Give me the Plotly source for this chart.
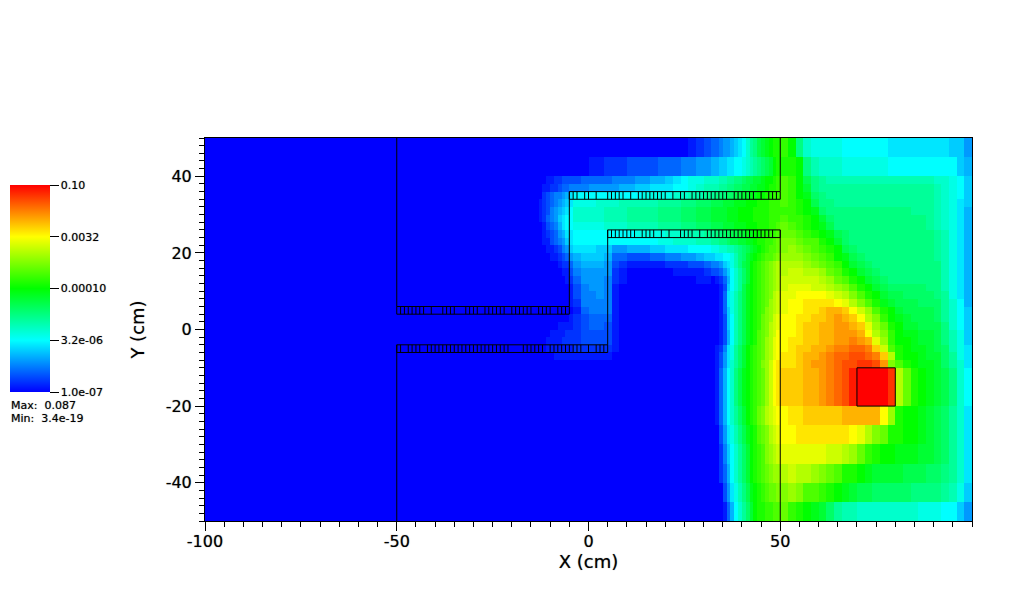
import plotly.graph_objects as go

# colour level: 0 = 1.0e-7, 10 = 3.2e-6, 20 = 1e-4, 30 = 0.0032, 40 = 0.10
x_edges = [-100] + list(range(-14, -4)) + list(range(-4, 32, 2)) + list(range(32, 50)) + list(range(50, 101, 2))
y_edges = [50, 45] + list(range(40, -12, -2)) + [-15, -20, -25, -30, -35, -40, -45, -50]

blank = [0] * 28

# each row: x<-14 (empty) | -14..-5 | -4..30 | 32..49 | 50..98
p47 = [0]*10 + [0]*15 + [1,2,3] + [4,4,5,6,6,7,8,9,10,12,14,15,17,18,19,20,21,21] + [22,20,15,12,11,11,11,11,10,10,10,10,10,10,9,9,9,9,9,9,9,9,8,8,6]
p42 = [0]*10 + [0,0,1,1,2,2,2,3,3,3,3,4,4,4,5,5,6,6] + [7,7,8,8,9,9,10,10,11,12,13,14,15,16,17,18,20,21] + [21,21,20,15,13,12,12,12,11,11,11,11,11,11,10,10,10,10,10,10,10,10,10,8,7]
p39 = [0,0,0,1,1,2,2,3,3,3] + [3,4,4,4,4,5,5,5,6,6,7,7,8,9,10,11,11,12] + [12,12,13,13,14,14,15,15,16,17,17,18,18,19,20,20,21,22] + [23,22,20,17,15,14,13,13,13,13,13,13,13,13,13,13,13,13,13,13,12,12,11,10,8]
p37 = [0,0,1,1,2,2,3,4,4,5] + [5,5,6,6,6,6,7,7,8,8,9,9,9,10,10,11,12,13] + [13,13,14,14,15,15,16,16,17,17,18,18,19,19,20,21,21,22] + [23,22,20,18,15,14,14,14,14,14,14,14,14,14,14,14,14,14,14,14,13,12,11,10,8]
p35 = [0,0,2,3,4,5,5,6,7,9] + [10,10,10,10,10,10,10,10,10,11,11,11,11,12,12,13,13,14] + [14,15,15,15,16,16,17,17,18,18,19,19,20,20,21,21,22,22] + [23,22,20,19,16,15,14,14,14,14,14,14,14,14,14,14,14,14,14,14,13,12,11,10,8]
p33 = [0,1,2,3,4,5,6,7,8,9] + [11,11,11,12,12,12,13,13,13,13,13,14,14,14,15,15,16,16] + [17,17,17,18,18,18,19,19,19,20,20,20,21,21,21,22,22,22] + [23,22,21,20,17,15,15,14,14,14,14,14,14,14,14,14,14,14,14,14,13,12,11,9,8]
p31 = [0,1,2,3,5,6,7,8,9,10] + [12,12,12,12,13,13,13,14,14,14,14,15,15,15,16,16,17,17] + [18,18,18,18,19,19,19,20,20,20,20,21,21,21,21,22,22,22] + [22,22,21,20,19,16,15,15,15,15,15,15,15,15,15,15,15,14,14,14,13,12,11,9,7]
p29 = [0,1,2,4,5,6,8,9,10,10] + [12,12,12,12,13,13,13,14,14,14,14,15,15,15,16,16,17,17] + [18,18,18,18,19,19,19,20,20,20,20,21,21,21,21,22,22,22] + [23,22,22,21,20,18,16,15,15,15,15,15,15,15,15,15,15,15,15,14,13,12,11,9,7]
p27 = [0,0,1,3,4,5,7,9,10,10] + [11,11,11,11,12,12,12,13,13,13,13,14,14,14,15,15,16,16] + [17,17,17,18,18,18,19,19,19,20,20,20,21,21,21,22,22,23] + [24,23,22,21,20,19,17,15,15,15,15,15,15,15,15,15,15,15,15,14,13,12,11,9,7]
p25 = [0,0,1,2,3,4,6,7,9,9] + [10,10,10,10,10,10,10,10,11,11,11,11,12,12,12,13,13,14] + [14,15,15,16,16,17,17,18,18,19,19,20,20,21,21,22,22,23] + [24,24,23,22,21,20,19,17,16,15,15,15,15,15,15,15,15,15,15,15,14,13,11,9,7]
p23 = [0,0,1,1,3,4,5,6,8,9] + [10,10,10,10,10,10,10,10,10,10,10,11,11,12,12,12,13,13] + [14,14,15,15,16,17,17,18,18,19,19,20,21,21,22,22,23,24] + [25,25,24,23,23,21,20,18,16,15,15,15,15,15,15,15,15,15,15,15,14,13,11,9,7]
p21 = [0,0,0,1,1,2,3,5,6,8] + [9,9,9,8,8,6,6,7,7,7,8,8,9,9,9,10,10,10] + [11,11,12,12,13,13,14,15,16,17,18,19,20,21,22,23,23,24] + [25,26,25,24,23,22,21,20,17,16,15,15,15,15,15,15,15,15,15,15,14,13,11,9,7]
p19 = [0,0,0,0,1,1,2,3,4,6] + [7,8,8,8,7,4,4,3,3,3,4,4,5,5,6,6,7,8] + [8,9,9,10,10,11,13,15,16,18,19,20,21,22,23,23,24,25] + [26,26,26,25,24,23,22,20,19,17,16,15,15,15,15,15,15,15,15,15,14,13,11,9,7]
p17 = [0,0,0,0,0,0,1,2,2,4] + [6,7,7,7,6,3,2,1,1,1,1,1,2,2,2,3,3,4] + [5,5,6,8,9,11,13,15,17,18,20,21,22,23,24,25,26,27] + [27,27,27,26,25,24,23,22,20,18,17,16,15,15,15,15,15,15,15,15,15,13,11,9,7]
p15 = [0,0,0,0,0,0,0,1,1,3] + [5,6,6,6,6,2,1,0,0,0,0,0,0,1,1,1,1,2] + [3,3,4,6,8,10,12,14,16,18,20,21,22,23,24,25,26,27] + [27,28,28,27,27,26,24,23,21,20,18,17,16,15,15,15,15,15,15,15,15,13,11,9,7]
p13 = [0,0,0,0,0,0,0,0,1,2] + [4,6,6,6,5,2,1,0,0,0,0,0,0,0,0,0,1,1] + [0,1,2,4,7,10,12,14,16,18,20,21,22,23,24,25,26,27] + [28,28,28,28,28,27,26,24,23,21,20,18,17,16,15,15,15,15,15,15,15,13,11,9,7]
p11 = [0,0,0,0,0,0,0,0,0,1] + [3,5,6,6,5,1,0,0,0,0,0,0,0,0,0,0,0,0] + [0,0,1,3,8,10,12,14,17,19,20,21,22,23,24,25,26,27] + [28,29,29,29,28,28,27,26,25,23,21,20,18,17,16,16,16,16,16,15,15,13,11,9,7]
p9 = [0,0,0,0,0,0,0,0,0,1] + [3,5,5,6,5,1,0,0,0,0,0,0,0,0,0,0,0,0] + [0,0,1,4,9,11,13,15,17,19,20,21,22,23,24,25,27,28] + [29,29,30,30,30,30,29,28,27,25,23,21,20,18,17,17,16,16,16,16,15,14,11,9,7]
p7 = [0,0,0,0,0,0,0,0,0,1] + [2,5,5,5,5,1,0,0,0,0,0,0,0,0,0,0,0,0] + [0,0,1,4,9,11,13,15,17,19,20,21,22,23,24,26,27,28] + [29,30,30,31,31,31,31,30,29,27,25,23,21,19,18,17,17,17,16,16,16,14,12,10,7]
p5 = [0,0,0,0,0,0,0,0,0,0] + [1,4,5,5,5,1,0,0,0,0,0,0,0,0,0,0,0,0] + [0,0,1,4,8,11,13,15,17,19,20,21,22,23,25,26,27,28] + [29,30,30,31,31,32,33,33,32,30,28,26,23,21,20,18,17,17,17,17,16,14,12,10,8]
p3 = [0,0,0,0,0,0,0,0,0,1] + [2,3,4,4,4,1,0,0,0,0,0,0,0,0,0,0,0,0] + [0,0,1,3,8,10,13,15,17,19,20,21,22,24,25,26,28,29] + [30,30,31,31,32,32,33,34,33,32,30,27,25,22,20,19,18,17,17,17,16,14,12,10,8]
p1 = [0,0,0,0,0,0,1,1,1,1] + [2,3,4,4,3,1,0,0,0,0,0,0,0,0,0,0,0,0] + [0,0,1,3,8,10,13,15,17,19,20,21,22,24,25,27,28,29] + [30,30,31,32,32,33,33,34,34,33,32,29,26,24,21,20,18,18,17,17,17,15,12,10,8]
m1 = [0,0,0,0,1,1,1,1,2,2] + [2,3,3,3,3,1,0,0,0,0,0,0,0,0,0,0,0,0] + [0,0,1,3,7,10,13,15,17,19,20,21,23,24,25,27,28,30] + [30,30,31,32,32,33,33,34,34,34,33,30,27,25,22,20,19,19,18,18,17,15,13,11,8]
m3 = [0,0,0,1,1,1,1,2,2,2] + [2,3,3,3,3,1,0,0,0,0,0,0,0,0,0,0,0,0] + [0,0,1,3,7,10,13,15,17,19,20,21,23,24,26,27,29,30] + [30,31,31,32,32,33,33,34,34,35,34,33,29,26,22,20,20,19,18,18,17,15,13,11,8]
m5 = [0,0,0,1,1,1,1,1,1,1] + [2,2,2,2,2,1,0,0,0,0,0,0,0,0,0,0,0,0] + [0,1,2,5,9,11,14,16,18,20,21,22,23,24,26,27,29,30] + [30,31,32,32,33,33,34,35,35,36,36,35,32,28,23,21,20,19,19,18,17,16,13,11,9]
m7 = [0,0,0,0,0,1,1,1,1,1] + [1,1,1,1,1,0,0,0,0,0,0,0,0,0,0,0,0,0] + [0,1,3,6,9,11,14,16,18,20,21,22,23,24,26,27,29,30] + [31,31,32,33,33,34,35,36,36,37,37,36,35,32,27,21,20,20,19,18,18,16,14,11,9]
m9 = blank + [0,1,3,6,9,12,14,16,18,20,21,22,23,25,26,28,30,31] + [31,31,32,33,34,34,35,36,37,37,38,38,37,34,25,23,21,20,19,19,18,16,14,12,9]
m12 = blank + [0,1,4,7,10,12,15,17,19,20,21,22,23,24,26,28,30,31] + [32,32,32,33,33,34,35,36,37,39,40,40,40,40,38,27,24,21,20,19,18,17,15,12,10]
m17 = blank + [0,1,4,7,10,12,15,17,19,20,21,22,23,24,26,28,30,31] + [32,32,32,33,33,34,35,36,37,39,40,40,40,40,38,27,24,21,20,19,18,17,15,12,10]
m22 = blank + [0,1,4,7,10,12,14,16,18,20,21,22,24,25,27,28,29,30] + [30,31,31,32,32,32,32,32,33,33,33,33,33,30,26,21,20,20,19,18,17,16,14,12,9]
m27 = blank + [0,0,3,6,9,11,13,15,17,19,20,21,23,24,25,27,28,29] + [30,30,31,31,31,31,31,31,31,30,29,27,25,24,21,21,20,20,19,18,17,16,14,12,9]
m32 = blank + [0,0,2,5,8,10,12,14,16,18,20,21,22,23,25,26,27,28] + [29,29,29,29,29,29,28,28,27,26,24,22,21,20,20,19,19,19,18,18,17,16,14,12,9]
m37 = blank + [0,0,2,4,7,10,12,14,16,18,20,21,22,23,24,25,26,26] + [27,28,27,27,26,25,24,23,21,21,20,19,18,18,18,18,17,17,17,16,16,15,14,12,9]
m42 = blank + [0,0,0,3,6,9,11,13,15,17,19,20,21,22,23,24,24,25] + [25,26,25,23,23,22,21,20,19,18,17,17,16,16,16,16,16,15,15,15,15,14,13,11,8]
m47 = blank + [0,0,0,1,4,7,10,12,14,16,18,20,21,21,22,22,23,23] + [24,22,21,20,19,18,16,14,13,13,12,12,12,12,12,12,12,12,11,11,11,10,10,8,6]

rows = [p47, p42, p39, p37, p35, p33, p31, p29, p27, p25, p23, p21, p19, p17, p15, p13, p11, p9, p7, p5, p3, p1,
        m1, m3, m5, m7, m9, m12, m17, m22, m27, m32, m37, m42, m47]
for r in rows:
    assert len(r) == 71, r
assert len(rows) == len(y_edges) - 1

z = [[0] + r for r in rows]

# duct walls
wall_x = [-50, -50, -5, -5, 50, 50, None, -50, -50, 5, 5, 50, 50, None, 70, 80, 80, 70, 70]
wall_y = [50, 6, 6, 36, 36, 50, None, -50, -4, -4, 26, 26, -50, None, -10, -10, -20, -20, -10]
band_lines_x = [-50, -5, None, -5, 50, None, 5, 50, None, -50, 5]
band_lines_y = [4, 4, None, 34, 34, None, 24, 24, None, -6, -6]

# mesh ticks in the thin wall bands
band_top = [-5,-4,-3,-1,0,2,5,6,7,8,9,11,13,14,15,16,17,18,19,20,22,24,25,27,28,29,30,31,32,33,34,35,36,38,39,40,41,42,43,45,47,48,49,50]
band_mid = [5,6,7,8,9,10,11,12,14,15,16,17,19,21,24,25,26,27,29,31,32,33,34,35,36,37,38,39,40,41,42,43,44,45,46,47,48,50]
band_up = [-50,-49,-48,-47,-46,-45,-44,-43,-41,-38,-37,-36,-35,-32,-31,-30,-29,-27,-26,-25,-24,-23,-22,-20,-19,-18,-17,-16,-15,-13,-12,-11,-10,-8,-7,-6,-5]
band_low = [-50,-49,-47,-46,-45,-44,-42,-41,-40,-39,-38,-37,-36,-35,-34,-33,-32,-31,-30,-29,-28,-27,-26,-25,-24,-23,-22,-21,-17,-16,-15,-14,-13,-12,-10,-9,-8,-7,-6,-5,-4,-3,-2,0,2,3,4,5]

tick_x = []
tick_y = []
for xs, lo, hi in [(band_top, 34, 36), (band_mid, 24, 26), (band_up, 4, 6), (band_low, -6, -4)]:
    for v in xs:
        tick_x += [v, v, None]
        tick_y += [lo, hi, None]

bar_vals = [0, 10, 20, 30, 40]
bar_text = ["1.0e-07", "3.2e-06", "0.00010", "0.0032", "0.10"]
x_ticks = [-100, -50, 0, 50]
x_labels = ["-100", "-50", "0", "50"]
y_ticks = [-40, -20, 0, 20, 40]
y_labels = ["-40", "-20", "0", "20", "40"]

W = 1024
H = 613
FONT = "DejaVu Sans"
HEAVY = "0 0 1px rgba(0,0,0,0.55)"

plot_w = 972 - 204.5
plot_h = 521 - 138

fig = go.Figure()
fig.add_trace(go.Heatmap(
    x=x_edges, y=y_edges[::-1], z=z[::-1], zmin=0, zmax=40,
    colorscale=[[0, "#0000ff"], [0.25, "#00ffff"], [0.5, "#00ff00"], [0.75, "#ffff00"], [1, "#ff0000"]],
    hoverinfo="skip",
    colorbar=dict(
        x=(9 - 204.5) / plot_w, xanchor="left", y=(521 - 392) / plot_h, yanchor="bottom",
        thickness=40, thicknessmode="pixels", len=207, lenmode="pixels",
        xpad=0, ypad=0, outlinewidth=0,
        tickmode="array", tickvals=bar_vals, ticktext=bar_text,
        ticks="outside", ticklen=9, tickcolor="black", tickwidth=1,
        tickfont=dict(family=FONT, size=11, color="black", shadow=HEAVY),
    ),
))
for xs, ys in [(wall_x, wall_y), (band_lines_x, band_lines_y), (tick_x, tick_y)]:
    fig.add_trace(go.Scatter(x=xs, y=ys, mode="lines", line=dict(color="black", width=1),
                             hoverinfo="skip", showlegend=False))

axis_font = dict(family=FONT, size=16, color="black", shadow=HEAVY)
title_font = dict(family=FONT, size=18, color="black", shadow=HEAVY)
fig.update_xaxes(
    range=[-100, 100], tickmode="array", tickvals=x_ticks, ticktext=x_labels,
    ticks="outside", ticklen=9, tickcolor="black", tickwidth=1, tickfont=axis_font, ticklabelstandoff=-3,
    minor=dict(dtick=5, tick0=-100, ticks="outside", ticklen=5, tickcolor="black", tickwidth=1, showgrid=False),
    showgrid=False, zeroline=False, showline=True, mirror=True, linecolor="black", linewidth=1,
    title=dict(text="X (cm)", font=title_font, standoff=3),
)
fig.update_yaxes(
    range=[-50, 50], tickmode="array", tickvals=y_ticks, ticktext=y_labels,
    ticks="outside", ticklen=9, tickcolor="black", tickwidth=1, tickfont=axis_font,
    minor=dict(dtick=2, tick0=-50, ticks="outside", ticklen=5, tickcolor="black", tickwidth=1, showgrid=False),
    showgrid=False, zeroline=False, showline=True, mirror=True, linecolor="black", linewidth=1,
    title=dict(text="Y (cm)", font=title_font, standoff=16),
)

note_font = dict(family=FONT, size=11, color="black", shadow=HEAVY)
fig.update_layout(
    width=W, height=H,
    margin=dict(l=204.5, r=W - 972, t=138, b=H - 521, autoexpand=False),
    paper_bgcolor="white", plot_bgcolor="white", showlegend=False,
    annotations=[
        dict(text="Max:  0.087", xref="paper", yref="paper", x=(8.5 - 204.5) / plot_w, y=(521 - 405) / plot_h,
             xanchor="left", yanchor="middle", showarrow=False, font=note_font),
        dict(text="Min:  3.4e-19", xref="paper", yref="paper", x=(8.5 - 204.5) / plot_w, y=(521 - 418) / plot_h,
             xanchor="left", yanchor="middle", showarrow=False, font=note_font),
    ],
)

fig.write_html("out.html", config=dict(displayModeBar=False), post_script="document.body.style.margin='0';")
